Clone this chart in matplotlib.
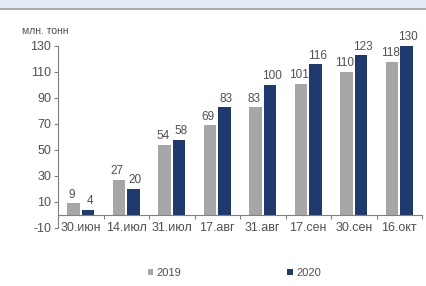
import matplotlib
matplotlib.use("Agg")
import matplotlib.pyplot as plt
import numpy as np
from matplotlib.patches import Rectangle
from matplotlib.lines import Line2D

plt.rcParams['font.family'] = ['Liberation Sans', 'DejaVu Sans']

categories = ["30.июн", "14.июл", "31.июл", "17.авг", "31.авг", "17.сен", "30.сен", "16.окт"]
s2019 = [9, 27, 54, 69, 83, 101, 110, 118]
s2020 = [4, 20, 58, 83, 100, 116, 123, 130]
yticks = [-10, 10, 30, 50, 70, 90, 110, 130]

c19 = "#a6a6a6"
c20 = "#1f3a6e"
txt = "#505050"

fig = plt.figure(figsize=(4.26, 2.86), dpi=100)
# top band (cropped title bar)
fig.patches.append(Rectangle((0, 0.972), 1, 0.028, transform=fig.transFigure,
                             facecolor="#e2edf8", edgecolor="none"))
fig.lines.append(Line2D([0.0, 1.0], [0.970, 0.970], transform=fig.transFigure,
                        color="#9a9a9a", lw=1.2))

ax = fig.add_axes([58/426, 1 - 228/286, 364/426, (228-46)/286])
x = np.arange(len(categories))
w = 0.27
b1 = ax.bar(x - 0.16, s2019, w, color=c19, label="2019")
b2 = ax.bar(x + 0.16, s2020, w, color=c20, label="2020")
for xi, v in zip(x, s2019):
    ax.text(xi - 0.2, v + 2, str(v), ha="center", va="bottom", fontsize=8.5, color=txt)
for xi, v in zip(x, s2020):
    ax.text(xi + 0.2, v + 2, str(v), ha="center", va="bottom", fontsize=8.5, color=txt)

ax.set_ylim(-10, 130)
ax.set_xlim(-0.5, len(categories) - 0.5)
ax.set_yticks(yticks)
ax.set_yticklabels([str(t) for t in yticks], fontsize=9, color=txt)
ax.tick_params(axis="y", length=3, color="#808080", pad=2)

ax.spines["top"].set_visible(False)
ax.spines["right"].set_visible(False)
ax.spines["left"].set_color("#808080")
ax.spines["bottom"].set_position(("data", 0))
ax.spines["bottom"].set_color("#808080")

ax.set_xticks(np.arange(len(categories) + 1) - 0.5)
ax.set_xticklabels([])
ax.tick_params(axis="x", length=3, color="#808080", direction="out")
for xi, lab in zip(x, categories):
    ax.text(xi, -10, lab, ha="center", va="center", fontsize=9, color=txt)

fig.text(22/426, 1 - 31/286, "млн. тонн", fontsize=7.5, color=txt, ha="left", va="center")

fig.legend(handles=[b1, b2], labels=["2019", "2020"], loc="center",
           bbox_to_anchor=(0.55, 1 - 273/286), ncol=2, frameon=False,
           fontsize=8, handlelength=0.5, handleheight=0.5, handletextpad=0.3,
           columnspacing=9.5, labelcolor=txt)

fig.savefig("out.png", dpi=100)
